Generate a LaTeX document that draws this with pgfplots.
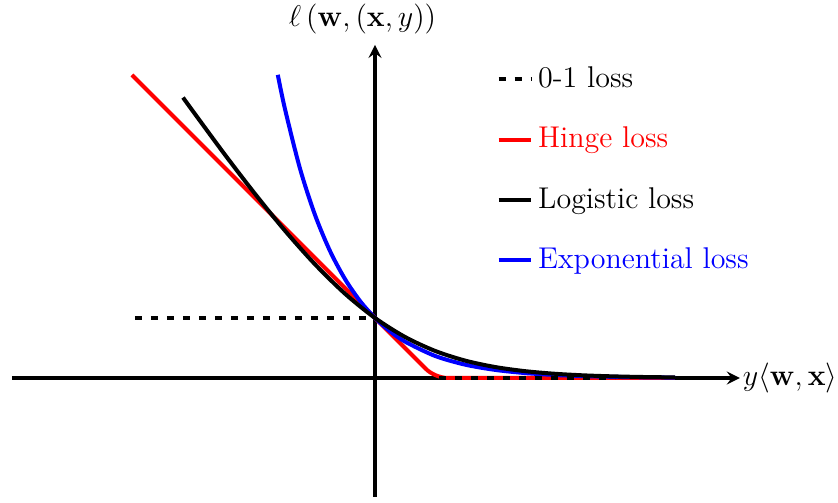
\documentclass[border=0pt,12pt]{standalone}
\usepackage{pgfplots}
\pgfplotsset{compat=1.18}
\begin{document}
\begin{tikzpicture}
\begin{axis}[
  x=24pt, y=24pt,
  axis lines=middle,
  axis line style={line width=1.25pt},
  xmin=-6.05, xmax=6.08, ymin=-1.98, ymax=5.55,
  xtick=\empty, ytick=\empty,
  clip=false,
  xlabel={$y\langle\mathbf{w},\mathbf{x}\rangle$},
  ylabel={$\ell\,(\mathbf{w},(\mathbf{x},y))$},
  xlabel style={anchor=west, inner sep=1pt},
  ylabel style={anchor=south, xshift=-5pt},
  legend style={draw=none, fill=none, at={(0.655,0.975)}, anchor=north west,
    row sep=10pt, legend cell align=left},
  legend image code/.code={\draw[#1] (0pt,0pt) -- (13pt,0pt);},
  every axis plot/.append style={line width=1.6pt},
]
\addplot[black, dash pattern=on 2.8pt off 3.6pt] coordinates {(-4,1) (0,1)};
\addlegendentry{0-1 loss}
\addplot[red, rounded corners=5pt] coordinates {(-4.05,5.05) (1,0) (5,0)};
\addlegendentry{\textcolor{red}{Hinge loss}}
\addplot[blue, smooth, forget plot] coordinates {
(-1.62,5.053) (-1.5,4.482) (-1.25,3.490) (-1.0,2.718) (-0.75,2.117) (-0.5,1.649)
(-0.25,1.284) (0,1) (0.25,0.7788) (0.5,0.6065) (1,0.3679) (1.5,0.2231) (2,0.1353)
(2.5,0.0821) (3,0.0498) (3.5,0.0302) (4,0.0183) (4.5,0.0111) (5,0.0067)};
\addplot[black, smooth] coordinates {
(-3.2,4.674) (-3.0,4.399) (-2.5,3.720) (-2.0,3.069) (-1.5,2.455) (-1.0,1.895)
(-0.5,1.405) (0,1) (0.5,0.684) (1.0,0.452) (1.5,0.2905) (2.0,0.1831) (2.5,0.1138)
(3.0,0.0701) (3.5,0.0429) (4.0,0.0262) (4.5,0.0159) (5.0,0.0097)};
\addlegendentry{Logistic loss}
\addlegendimage{blue}
\addlegendentry{\textcolor{blue}{Exponential loss}}
\addplot[black, dash pattern=on 2.8pt off 3.6pt, forget plot] coordinates {(0,0) (4,0)};
\coordinate (BL) at (axis cs:-6.25,-2.067);
\coordinate (TR) at (axis cs:7.717,6.3);
\end{axis}
\pgfresetboundingbox
\path (BL) rectangle (TR);
\end{tikzpicture}
\end{document}
